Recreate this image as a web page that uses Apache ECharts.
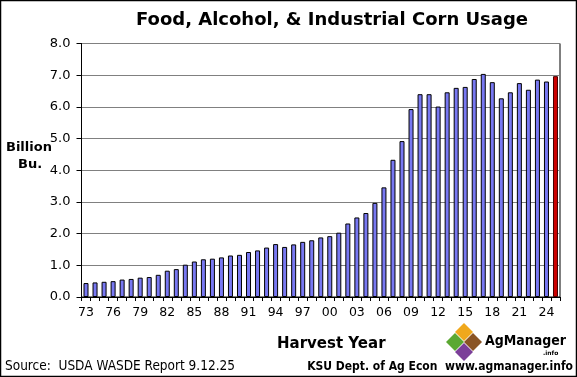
<!DOCTYPE html>
<html>
<head>
<meta charset="utf-8">
<script src="https://cdn.jsdelivr.net/npm/echarts@6/dist/echarts.min.js"></script>
<style>
  html, body { margin: 0; padding: 0; background: #fff; }
  #chart { width: 577px; height: 377px; }
</style>
</head>
<body>
<div id="chart"></div>
<script>
// harvest years 1973 - 2025
const years = ['73','74','75','76','77','78','79','80','81','82','83','84','85','86','87','88','89','90',
  '91','92','93','94','95','96','97','98','99','00','01','02','03','04','05','06','07','08','09','10',
  '11','12','13','14','15','16','17','18','19','20','21','22','23','24','25']
// food, alcohol & industrial use, billion bu.
const usage = [0.44,0.46,0.48,0.50,0.55,0.57,0.61,0.63,0.70,0.83,0.88,1.02,1.12,1.19,1.21,1.25,1.31,1.33,
  1.42,1.47,1.56,1.67,1.58,1.66,1.74,1.79,1.88,1.92,2.03,2.32,2.51,2.65,2.97,3.46,4.33,4.92,5.93,6.40,
  6.40,6.01,6.46,6.60,6.63,6.88,7.04,6.78,6.27,6.46,6.75,6.54,6.86,6.80,6.97]
const yTicks = [0, 1, 2, 3, 4, 5, 6, 7, 8]

const font = 'DejaVu Sans'
const blue = '#7878F2'
const red = '#CC0000'

const chart = echarts.init(document.getElementById('chart'))

const option = {
  animation: false,
  backgroundColor: '#fff',
  grid: { left: 81.5, top: 43.5, right: 17, bottom: 80, show: true, borderColor: '#000', borderWidth: 1 },
  title: {
    text: 'Food, Alcohol, & Industrial Corn Usage',
    left: 327, top: 6, textAlign: 'center',
    textStyle: { fontFamily: font, fontSize: 18, fontWeight: 'bold', color: '#000' },
  },
  xAxis: {
    type: 'category',
    data: years,
    boundaryGap: true,
    axisLine: { lineStyle: { color: '#000', width: 1 } },
    axisTick: { show: true, interval: 0, length: 4, lineStyle: { color: '#000' } },
    axisLabel: { interval: 2, fontFamily: font, fontSize: 12.5, color: '#000', margin: 9 },
  },
  yAxis: {
    type: 'value',
    min: yTicks[0],
    max: yTicks[yTicks.length - 1],
    interval: 1,
    axisLine: { show: true, lineStyle: { color: '#000' } },
    axisTick: { show: true, length: 5, lineStyle: { color: '#000' } },
    axisLabel: { fontFamily: font, fontSize: 13, color: '#000', margin: 11, formatter: v => v.toFixed(1) },
    splitLine: { lineStyle: { color: '#808080', width: 1 } },
  },
  series: [{
    type: 'bar',
    barWidth: 5,
    data: usage.map((v, i) => ({
      value: v,
      itemStyle: i === usage.length - 1
        ? { color: red, borderColor: '#400', borderWidth: 1 }
        : { color: blue, borderColor: '#000', borderWidth: 1 },
    })),
  }],
  graphic: [
    { type: 'rect', shape: { x: 0.5, y: 0.5, width: 576, height: 376 }, style: { fill: 'none', stroke: '#000', lineWidth: 1.5 } },
    { type: 'text', left: 6, top: 141, style: { text: 'Billion', font: 'bold 13px "DejaVu Sans"', fill: '#000' } },
    { type: 'text', left: 18, top: 158, style: { text: 'Bu.', font: 'bold 13px "DejaVu Sans"', fill: '#000' } },
    { type: 'text', left: 277, top: 337, style: { text: 'Harvest Year', font: 'bold 15px "DejaVu Sans"', fill: '#000' } },
    { type: 'text', left: 5, top: 359, style: { text: 'Source:  USDA WASDE Report 9.12.25', font: '13.5px "DejaVu Sans Condensed"', fill: '#000' } },
    { type: 'text', right: 4, top: 361, style: { text: 'KSU Dept. of Ag Econ  www.agmanager.info', font: 'bold 12px "DejaVu Sans Condensed"', fill: '#000' } },
    // AgManager logo
    { type: 'polygon', shape: { points: [[464,323],[473,332],[464,341],[455,332]] }, style: { fill: '#F0A81C' } },
    { type: 'polygon', shape: { points: [[455,333],[464,342],[455,351],[446,342]] }, style: { fill: '#5BA832' } },
    { type: 'polygon', shape: { points: [[473,333],[482,342],[473,351],[464,342]] }, style: { fill: '#8A5424' } },
    { type: 'polygon', shape: { points: [[464,343],[473,352],[464,361],[455,352]] }, style: { fill: '#7B3F98' } },
    { type: 'text', left: 485, top: 334, style: { text: 'AgManager', font: 'bold 14px "DejaVu Sans Condensed"', fill: '#000' } },
    { type: 'text', left: 543, top: 350, style: { text: '.info', font: 'bold 6px "DejaVu Sans"', fill: '#000' } },
  ],
}

chart.setOption(option)
</script>
</body>
</html>
